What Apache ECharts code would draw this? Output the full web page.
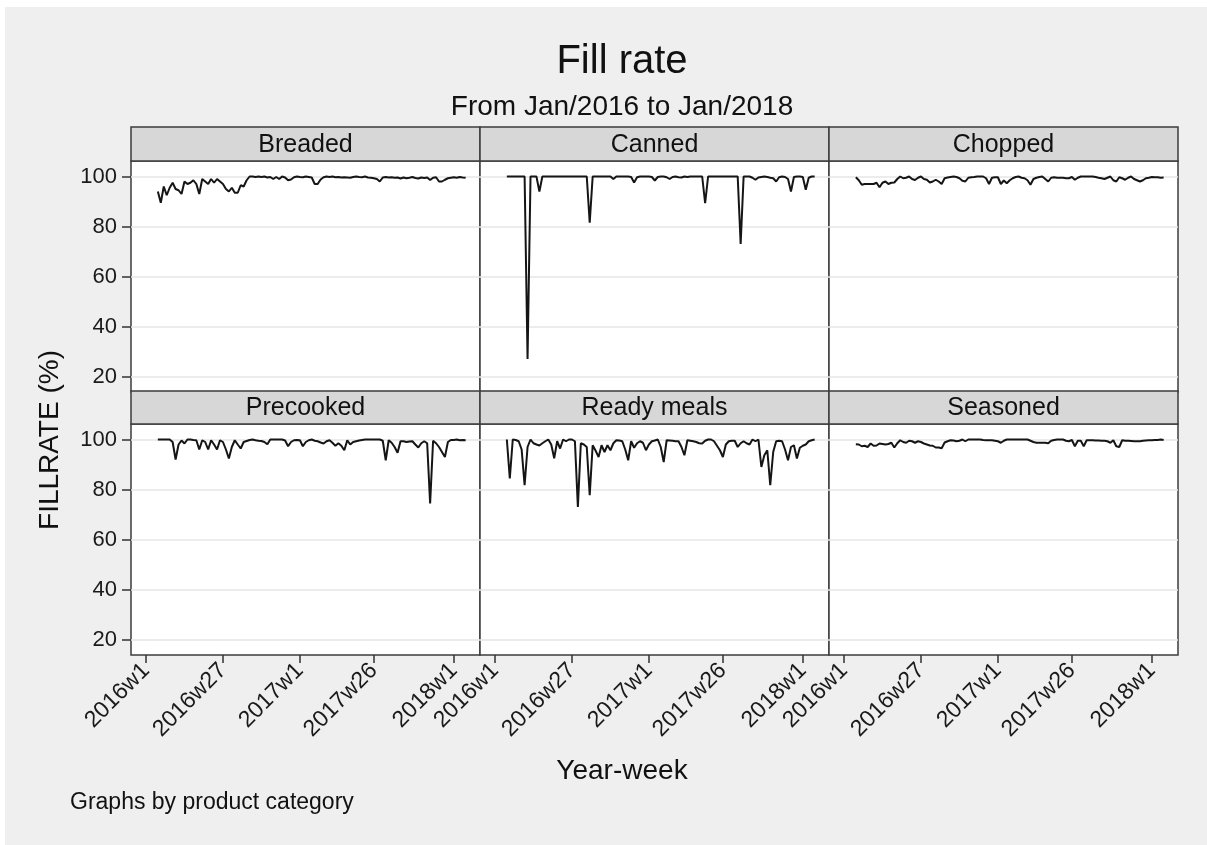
<!DOCTYPE html>
<html>
<head>
<meta charset="utf-8">
<script src="https://cdn.jsdelivr.net/npm/echarts@6/dist/echarts.min.js"></script>
<style>
  html, body { margin: 0; padding: 0; background: #fff; }
  #chart {
    width: 1207px; height: 845px;
    background:
      linear-gradient(#fff, #fff) top left / 100% 7px no-repeat,
      linear-gradient(#fff, #fff) top left / 5px 100% no-repeat,
      #efefef;
  }
</style>
</head>
<body>
<div id="chart"></div>
<script>
// Weekly fill rate by product category, 2016w5 .. 2018w5
const categories = ['Breaded', 'Canned', 'Chopped', 'Precooked', 'Ready meals', 'Seasoned'];
const firstWeek = 4; // week index of the first value (2016w1 = 0)
const weekTickValues = [0, 26, 52, 77, 104];
const weekTickLabels = ['2016w1', '2016w27', '2017w1', '2017w26', '2018w1'];
const fillTicks = [20, 40, 60, 80, 100];

const breaded = [
  94, 89.5, 96, 92.5, 95.5, 97.5, 95, 94.5, 93, 98,
  97, 97.5, 98.5, 97, 93, 99, 98, 97, 99, 97.5,
  99, 98, 97, 95, 94, 95.5, 93.5, 93.5, 96.5, 96,
  98.5, 100, 100, 99.8, 100, 99.8, 100, 99.6, 99.8, 99,
  99.8, 99, 100, 99.6, 98.5, 98.8, 99.7, 100, 99.8, 99.7,
  100, 99.8, 99.6, 97, 97, 98.8, 99.7, 100, 99.8, 100,
  99.7, 99.8, 99.6, 99.7, 99.6, 99.5, 99.8, 100, 99.8, 99.7,
  100, 99.6, 99.5, 99.3, 99, 98, 99.6, 99.8, 99.6, 99.7,
  99.5, 99.6, 99.2, 99.6, 99.3, 99.5, 99.8, 99.4, 99.2, 99.6,
  99.4, 99.6, 98.6, 99.5, 99.7, 98, 98, 98.7, 99.3, 99.5,
  99.7, 99.5, 99.8, 99.6, 99.5
];
const canned = [
  100, 100, 100, 100, 100, 100, 100, 27, 100, 100,
  100, 94, 100, 100, 100, 100, 100, 100, 100, 100,
  100, 100, 100, 100, 100, 100, 100, 100, 81.5, 100,
  100, 100, 100, 100, 100, 100, 99, 100, 100, 100,
  100, 100, 99.8, 97.6, 99.7, 100, 100, 100, 100, 99.8,
  98.4, 99.8, 100, 100, 99.7, 99, 99.8, 100, 99.7, 99.6,
  100, 99.8, 100, 100, 100, 100, 100, 89.3, 100, 100,
  100, 100, 100, 100, 100, 100, 100, 100, 100, 73,
  100, 100, 100, 99.5, 98.7, 99.6, 99.8, 100, 99.8, 99.5,
  99.3, 98, 99.7, 100, 99.8, 99, 94, 99.8, 100, 100,
  99.8, 94.7, 99.5, 100, 100
];
const chopped = [
  99.7, 98.5, 96.7, 97, 97, 97, 97, 97.5, 95.7, 97.5,
  98, 97, 97.5, 97.6, 99, 100, 99.3, 99.5, 100, 99,
  98.6, 99.5, 100, 99, 98.7, 97.6, 98, 98.7, 98, 97,
  99.3, 99.6, 99.8, 100, 99.8, 99.3, 98.3, 98, 99.5, 99.7,
  99.8, 100, 100, 100, 99.3, 97, 99.5, 99.7, 99.7, 97,
  98.4, 97.3, 98.5, 99.3, 99.8, 100, 99.5, 99.3, 98.5, 96.7,
  99, 99.5, 99.8, 100, 99, 98, 99.5, 99.7, 99.5, 99.5,
  99.5, 99.3, 99.3, 99.8, 98.7, 99.5, 100, 100, 100, 100,
  100, 99.8, 99.5, 99.3, 99, 99.5, 100, 98.5, 98, 99.7,
  99.3, 98.7, 99.5, 100, 99, 98.5, 98, 98.5, 99.3, 99.5,
  99.8, 99.7, 99.7, 99.5, 99.6
];
const precooked = [
  100, 100, 100, 100, 100, 99, 92, 98, 99.6, 98.4,
  100, 100, 99.8, 99.7, 96, 99.7, 99, 96, 99.7, 98,
  96, 99.7, 99, 96, 92.4, 97, 99.7, 98, 96.4, 99,
  99.4, 99.8, 100, 99.7, 99.5, 99.4, 99, 98.1, 100, 100,
  100, 100, 100, 99.6, 97.3, 99, 99.7, 99.8, 99.7, 97.3,
  99, 99.7, 100, 99.5, 99.3, 98.8, 98.4, 99.3, 99.7, 98.7,
  97.5, 98.5, 97.5, 95.7, 99.7, 98, 99, 99.3, 99.6, 99.8,
  100, 100, 100, 100, 100, 100, 99.5, 91.7, 99.7, 98.7,
  97, 94.7, 99.3, 99.3, 99, 99.2, 99.3, 98, 96.8, 98.5,
  99.3, 98.5, 74.4, 99.5, 98.5, 97, 95, 93, 99, 99.8,
  99.8, 100, 99.7, 99.8, 99.7
];
const readyMeals = [
  100, 84.4, 100, 99.8, 99.3, 96, 81.7, 97, 100, 98.5,
  98, 97.6, 98.5, 99.3, 100, 98, 92.5, 99.3, 96.4, 100,
  99.3, 100, 100, 99.3, 73, 98.5, 98, 97, 77.7, 97.7,
  95.5, 93, 97.7, 95, 97.7, 95.7, 98.5, 99.7, 99.6, 99.3,
  96, 91.7, 99.3, 96.7, 98.5, 99.3, 98.7, 95.7, 98, 99.3,
  99.6, 100, 97, 91, 99.7, 99.6, 99.5, 99.3, 99.3, 97,
  93.7, 99.7, 99.5, 99.3, 99, 98.5, 98.4, 99.5, 100, 100,
  99.3, 97.5, 95.7, 93, 98, 99.3, 99.5, 99.5, 97, 98.5,
  99.3, 98.5, 98, 100, 99.3, 100, 89, 93.7, 95.7, 81.7,
  95, 99.3, 99.5, 99.3, 96, 91.7, 97, 97.7, 92.4, 96.7,
  97.5, 98, 99.3, 99.7, 100
];
const seasoned = [
  98.1, 98, 97.3, 97.5, 97, 98.4, 97.5, 97.6, 98.4, 98.2,
  98, 98.2, 98.7, 96.8, 98.5, 99.7, 99, 98.7, 99.5, 99.3,
  98.7, 99.3, 99, 98.4, 98, 97.6, 97.5, 96.8, 96.8, 96.5,
  98.8, 99.3, 99.7, 99.6, 99.3, 99.5, 100, 99.3, 100, 100,
  100, 100, 100, 99.8, 99.7, 99.7, 99.7, 99.5, 99.3, 98.7,
  99.5, 100, 100, 100, 100, 100, 100, 100, 100, 99.5,
  99, 98.7, 98.7, 98.7, 98.7, 98.5, 99.5, 99.8, 100, 100,
  100, 99.5, 99.3, 99.8, 97.3, 99.5, 99.5, 97.3, 99.7, 99.7,
  99.7, 99.6, 99.6, 99.5, 99.5, 99.3, 98.7, 99.7, 97.3, 97,
  99.7, 99.5, 99.5, 99.4, 99.3, 99.3, 99.3, 99.5, 99.6, 99.7,
  99.7, 99.8, 99.8, 100, 99.8
];

const panelValues = [breaded, canned, chopped, precooked, readyMeals, seasoned];

// Panel geometry (pixels)
const FONT = '"Liberation Sans", Arial, Helvetica, sans-serif';
const panelLeft = 131, panelWidth = 349, panelHeight = 231;
const rowTop = [161, 424];
const headerTop = [127, 391];
const headerHeight = [34, 33];

const grids = [], xAxes = [], yAxes = [], series = [], graphics = [];

graphics.push(
  { type: 'text', x: 622, y: 62, style: { text: 'Fill rate', font: '40px ' + FONT, fill: '#111', align: 'center', verticalAlign: 'middle' } },
  { type: 'text', x: 622, y: 107, style: { text: 'From Jan/2016 to Jan/2018', font: '28px ' + FONT, fill: '#111', align: 'center', verticalAlign: 'middle' } },
  { type: 'text', x: 50, y: 440, rotation: Math.PI / 2, style: { text: 'FILLRATE (%)', font: '28px ' + FONT, fill: '#111', align: 'center', verticalAlign: 'middle' } },
  { type: 'text', x: 622, y: 771, style: { text: 'Year-week', font: '28px ' + FONT, fill: '#111', align: 'center', verticalAlign: 'middle' } },
  { type: 'text', x: 70, y: 803, style: { text: 'Graphs by product category', font: '23px ' + FONT, fill: '#111', align: 'left', verticalAlign: 'middle' } }
);

categories.forEach((name, i) => {
  const col = i % 3, row = Math.floor(i / 3);
  const left = panelLeft + col * panelWidth;
  grids.push({
    left: left, top: rowTop[row], width: panelWidth, height: panelHeight,
    show: true, backgroundColor: '#fff', borderColor: '#3c3c3c', borderWidth: 1.5
  });
  xAxes.push({
    type: 'value', gridIndex: i, min: -5.07, max: 112.85,
    axisLine: { show: false, onZero: false },
    splitLine: { show: false },
    axisTick: { show: row === 1, customValues: weekTickValues, length: 8, lineStyle: { color: '#333', width: 1.5 } },
    axisLabel: {
      show: row === 1, customValues: weekTickValues, rotate: 45, margin: 12,
      fontSize: 23, fontFamily: FONT, color: '#1a1a1a',
      formatter: v => weekTickLabels[weekTickValues.indexOf(v)]
    }
  });
  yAxes.push({
    type: 'value', gridIndex: i, min: 13.8, max: 106.2,
    axisLine: { show: false, onZero: false },
    axisTick: { show: col === 0, customValues: fillTicks, length: 9, lineStyle: { color: '#333', width: 1.5 } },
    axisLabel: { show: col === 0, customValues: fillTicks, margin: 14, fontSize: 22, fontFamily: FONT, color: '#1a1a1a' },
    splitLine: { show: true, lineStyle: { color: '#e6e6e6', width: 1.5 } }
  });
  series.push({
    name: name, type: 'line', xAxisIndex: i, yAxisIndex: i,
    data: panelValues[i].map((v, k) => [firstWeek + k, v]),
    showSymbol: false, symbol: 'none',
    lineStyle: { color: '#151515', width: 2 },
    z: 3
  });
  // strip header with category name
  graphics.push({
    type: 'group',
    children: [
      { type: 'rect', shape: { x: left, y: headerTop[row], width: panelWidth, height: headerHeight[row] },
        style: { fill: '#d7d7d7', stroke: '#3c3c3c', lineWidth: 1.5 } },
      { type: 'text', x: left + panelWidth / 2, y: headerTop[row] + headerHeight[row] / 2 + 1,
        style: { text: name, font: '25px ' + FONT, fill: '#111', align: 'center', verticalAlign: 'middle' } }
    ]
  });
});

const chart = echarts.init(document.getElementById('chart'), null, { renderer: 'canvas' });
chart.setOption({
  animation: false,
  backgroundColor: 'transparent',
  grid: grids,
  xAxis: xAxes,
  yAxis: yAxes,
  series: series,
  graphic: graphics
});
</script>
</body>
</html>
